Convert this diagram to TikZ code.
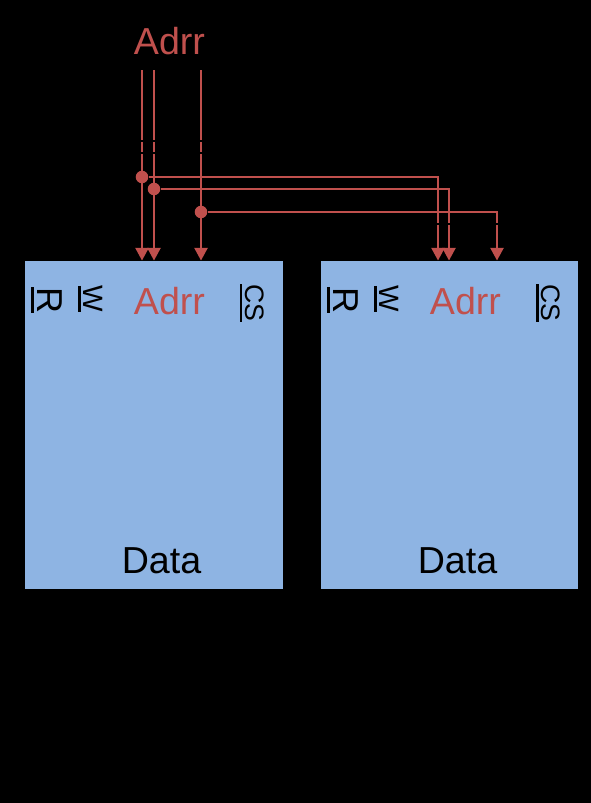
\documentclass[tikz,border=0pt]{standalone}
\usepackage{fontspec}
\setmainfont{Liberation Sans}
\usetikzlibrary{arrows.meta,calc}
\definecolor{wire}{HTML}{C0504D}
\definecolor{mem}{HTML}{8EB4E3}
\newcommand{\barred}[3]{\vtop{\hbox{#1}\kern #3\hrule height #2}}
\tikzset{
  x=0.75pt,y=-0.75pt,
  membox/.style={fill=mem,draw=none,inner sep=0,minimum height=246pt,anchor=north west},
  lab/.style={inner sep=0,font=\fontsize{28.2}{30}\selectfont},
  addr/.style={lab,text=wire},
  side/.style={inner sep=0,rotate=-90,anchor=center},
  wireline/.style={draw=wire,line width=1.2pt},
  arrowline/.style={wireline,-{Triangle[width=10pt,length=9.5pt]},shorten >=0.4pt},
  joint/.style={circle,fill=wire,inner sep=0,minimum size=9.4pt},
  mask/.style={draw=black,line width=1.3pt},
  rlab/.style={side,font=\fontsize{27}{29}\selectfont},
  wlab/.style={side,font=\fontsize{21}{23}\selectfont},
  clab/.style={side,font=\fontsize{20}{22}\selectfont}
}
\begin{document}
\begin{tikzpicture}
\fill[black] (0,0) rectangle (591,803);
\useasboundingbox (0,0) rectangle (591,803);
\node[membox,minimum width=193.5pt] (m1) at (25,261) {};
\node[membox,minimum width=192.75pt] (m2) at (321,261) {};
\node[addr] (top) at (169.5,41) {Adrr};
\node[addr] (a1) at (169.5,301) {Adrr};
\node[addr] (a2) at (465.5,301) {Adrr};
\node[lab] (d1) at (161.5,561) {Data};
\node[lab] (d2) at (457.5,561) {Data};
\node[rlab] (r1) at (46.5,300) {\barred{R}{2.3pt}{2.7pt}};
\node[wlab] (w1) at (90.5,299) {\barred{W}{2.1pt}{1.8pt}};
\node[clab] (c1) at (252,303) {\barred{CS}{2.1pt}{2.2pt}};
\node[rlab] (r2) at (342.5,300) {\barred{R}{2.3pt}{2.7pt}};
\node[wlab] (w2) at (386.5,299) {\barred{W}{2.1pt}{1.8pt}};
\node[clab] (c2) at (548,303) {\barred{CS}{2.1pt}{2.2pt}};
\coordinate (s1) at (142,70);
\coordinate (s2) at (154,70);
\coordinate (s3) at (201,70);
\coordinate (e1) at (142,261);
\coordinate (e2) at (154,261);
\coordinate (e3) at (201,261);
\coordinate (f1) at (438,261);
\coordinate (f2) at (449,261);
\coordinate (f3) at (497,261);
\node[joint] (j1) at (142,177) {};
\node[joint] (j2) at (154,189) {};
\node[joint] (j3) at (201,212) {};
\draw[arrowline] (s1) -- (e1);
\draw[arrowline] (s2) -- (e2);
\draw[arrowline] (s3) -- (e3);
\draw[arrowline] (j1) -- (j1 -| f1) -- (f1);
\draw[arrowline] (j2) -- (j2 -| f2) -- (f2);
\draw[arrowline] (j3) -- (j3 -| f3) -- (f3);
\coordinate (g1) at (136,141);
\coordinate (g1e) at (207,141);
\coordinate (g2) at (136,153);
\coordinate (g2e) at (207,153);
\coordinate (g3) at (432,224);
\coordinate (g3e) at (503,224);
\draw[mask] (g1) -- (g1e);
\draw[mask] (g2) -- (g2e);
\draw[mask] (g3) -- (g3e);
\end{tikzpicture}
\end{document}
